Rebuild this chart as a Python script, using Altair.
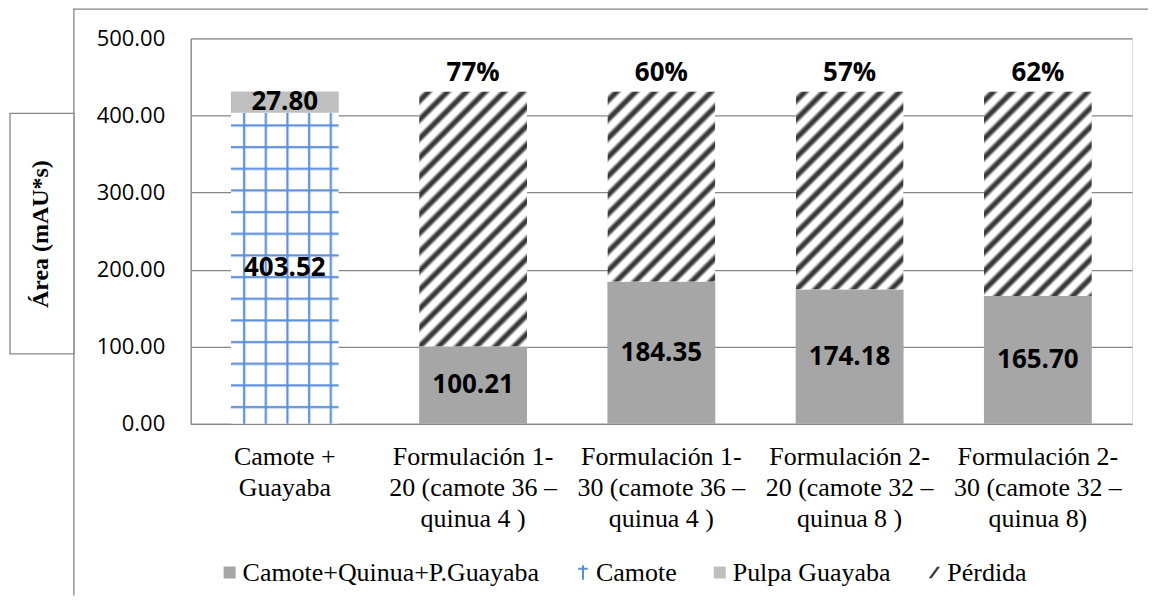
import base64
import altair as alt
import pandas as pd

# ---------------- data ----------------
categories = [
    "Camote +|Guayaba",
    "Formulación 1-|20 (camote 36 –|quinua 4 )",
    "Formulación 1-|30 (camote 36 –|quinua 4 )",
    "Formulación 2-|20 (camote 32 –|quinua 8 )",
    "Formulación 2-|30 (camote 32 –|quinua 8)",
]
series_names = ["Camote+Quinua+P.Guayaba", "Camote", "Pulpa Guayaba", "Pérdida"]

mezcla = [None, 100.21, 184.35, 174.18, 165.70]     # Camote+Quinua+P.Guayaba
camote = [403.52, None, None, None, None]            # Camote
pulpa = [27.80, None, None, None, None]              # Pulpa Guayaba
perdida = [None, 331.11, 246.97, 257.14, 265.62]     # Pérdida
perdida_pct = [None, "77%", "60%", "57%", "62%"]

y_title = "Área (mAU*s)"
y_ticks = [0, 100, 200, 300, 400, 500]

# ---------------- tables built from the arrays ----------------
rows = []
pct_rows = []
for i, cat in enumerate(categories):
    base = 0.0
    for name, vals in zip(series_names, [mezcla, camote, pulpa, perdida]):
        v = vals[i]
        if v is None:
            continue
        rows.append({"category": cat, "series": name, "value": v,
                     "y0": base, "y1": base + v, "mid": base + v / 2})
        base += v
    if perdida_pct[i] is not None:
        pct_rows.append({"category": cat, "top": base, "pct": perdida_pct[i]})

df = pd.DataFrame(rows)
df_solid = df[df["series"].isin(["Camote+Quinua+P.Guayaba", "Pulpa Guayaba"])]
df_cam = df[df["series"] == "Camote"]
df_perd = df[df["series"] == "Pérdida"]
df_lab = df[df["series"] != "Pérdida"]
df_pct = pd.DataFrame(pct_rows)
df_leg = pd.DataFrame({"series": series_names,
                       "category": [categories[0]] * 4,
                       "zero": [0.0] * 4})

# ---------------- pattern fills (SVG images) ----------------
hatch_svg = (
    "<svg xmlns='http://www.w3.org/2000/svg' width='100%' height='100%'>"
    "<defs><linearGradient id='g' x1='0' x2='1' y1='0' y2='0'>"
    "<stop offset='0' stop-color='#ffffff'/><stop offset='0.2' stop-color='#ffffff'/>"
    "<stop offset='0.42' stop-color='#383838'/><stop offset='0.6' stop-color='#383838'/>"
    "<stop offset='0.82' stop-color='#ffffff'/><stop offset='1' stop-color='#ffffff'/>"
    "</linearGradient>"
    "<pattern id='p' patternUnits='userSpaceOnUse' width='13.4' height='20' "
    "patternTransform='rotate(45)'><rect width='13.4' height='20' fill='url(#g)'/></pattern>"
    "</defs><rect width='100%' height='100%' fill='url(#p)'/></svg>"
)
grid_svg = (
    "<svg xmlns='http://www.w3.org/2000/svg' width='100%' height='100%'>"
    "<defs><pattern id='p' patternUnits='userSpaceOnUse' width='21.7' height='21.7' x='2.2' y='1.6'>"
    "<rect width='21.7' height='21.7' fill='#ffffff'/>"
    "<rect x='10' y='0' width='2.2' height='21.7' fill='#5b8fd9'/>"
    "<rect x='0' y='10' width='21.7' height='2.2' fill='#5b8fd9'/>"
    "</pattern></defs><rect width='100%' height='100%' fill='url(#p)'/></svg>"
)
hatch_url = "data:image/svg+xml;base64," + base64.b64encode(hatch_svg.encode()).decode()
grid_url = "data:image/svg+xml;base64," + base64.b64encode(grid_svg.encode()).decode()

# ---------------- styling ----------------
GRAY = "#868686"
SERIF = "Liberation Serif"
W, H = 943, 386

x_axis = alt.Axis(title=None, labelExpr="split(datum.label, '|')",
                  labelFont=SERIF, labelFontSize=26, labelLineHeight=31,
                  labelPadding=20, labelAngle=0, labelBaseline="top", labelColor="black",
                  labelLimit=0, ticks=False, tickSize=0, grid=False,
                  domainColor=GRAY, domainWidth=1.3)
y_axis = alt.Axis(title=None, values=y_ticks, format=".2f",
                  labelFont="Open Sans", labelFontSize=22, labelColor="black",
                  labelPadding=26, ticks=False, tickSize=0,
                  domainColor=GRAY, domainWidth=1.3, gridColor=GRAY, gridWidth=1.3)

x_enc = alt.X("category:N", sort=categories,
              scale=alt.Scale(domain=categories, paddingInner=0.427, paddingOuter=0.2135),
              axis=x_axis)
y_scale = alt.Scale(domain=[0, 500], nice=False)

legend = alt.Legend(title=None, orient="none", direction="horizontal",
                    legendX=26, legendY=522,
                    labelFont=SERIF, labelFontSize=26, labelColor="black",
                    labelLimit=0, labelOffset=0, columnPadding=30, symbolSize=144,
                    symbolStrokeWidth=0, symbolOpacity=1)
color_scale = alt.Scale(domain=series_names,
                        range=["#a6a6a6", "#5b8fd9", "#bfbfbf", "#404040"])
shape_scale = alt.Scale(domain=series_names, range=[
    "square",
    "M-0.17,-1.2H0.17V1.2H-0.17Z M-0.8,-0.78H0.8V-0.45H-0.8Z",
    "square",
    "M0.45,-0.95L0.95,-0.95L-0.45,0.95L-0.95,0.95Z",
])

# ---------------- layers ----------------
bars = alt.Chart(df_solid).mark_bar().encode(
    x=x_enc,
    y=alt.Y("y0:Q", scale=y_scale, axis=y_axis),
    y2="y1:Q",
    color=alt.Color("series:N", scale=color_scale, legend=legend),
)

cam_img = alt.Chart(df_cam).mark_image(aspect=False).encode(
    x=x_enc, y=alt.Y("y0:Q", scale=y_scale, axis=y_axis), y2="y1:Q",
    url=alt.value(grid_url),
)
perd_img = alt.Chart(df_perd).mark_image(aspect=False).encode(
    x=x_enc, y=alt.Y("y0:Q", scale=y_scale, axis=y_axis), y2="y1:Q",
    url=alt.value(hatch_url),
)

labels = alt.Chart(df_lab).mark_text(
    font="Open Sans", fontWeight="bold", fontSize=26, color="black", baseline="middle"
).encode(
    x=x_enc, y=alt.Y("mid:Q", scale=y_scale, axis=y_axis),
    text=alt.Text("value:Q", format=".2f"),
)

pct = alt.Chart(df_pct).mark_text(
    font="Open Sans", fontWeight="bold", fontSize=26, color="black", baseline="middle", dy=-18
).encode(
    x=x_enc, y=alt.Y("top:Q", scale=y_scale, axis=y_axis), text="pct:N",
)

legend_pts = alt.Chart(df_leg).mark_point(filled=True, opacity=0).encode(
    x=x_enc, y=alt.Y("zero:Q", scale=y_scale, axis=y_axis),
    color=alt.Color("series:N", scale=color_scale, legend=legend),
    shape=alt.Shape("series:N", scale=shape_scale, legend=legend),
)

one = alt.Data(values=[{"k": 1}])
frame_top = alt.Chart(one).mark_rule(color=GRAY, strokeWidth=1.3).encode(
    x=alt.value(-117), x2=alt.value(W + 16), y=alt.value(-29.3))
frame_left = alt.Chart(one).mark_rule(color=GRAY, strokeWidth=1.3).encode(
    x=alt.value(-117), y=alt.value(-30), y2=alt.value(H + 172))
title_box = alt.Chart(one).mark_rect(fill="white", stroke=GRAY, strokeWidth=1.3).encode(
    x=alt.value(-181), x2=alt.value(-117), y=alt.value(75), y2=alt.value(316))
title_txt = alt.Chart(one).mark_text(
    font=SERIF, fontWeight="bold", fontSize=24, color="black",
    angle=270, align="center", baseline="middle").encode(
    x=alt.value(-150), y=alt.value(196), text=alt.value(y_title))

chart = alt.layer(
    frame_top, frame_left, title_box, title_txt,
    bars, cam_img, perd_img, labels, pct, legend_pts,
).properties(
    width=W, height=H,
    autosize=alt.AutoSizeParams(type="none"),
    padding={"left": 183, "top": 30, "right": 16, "bottom": 172},
).configure_view(stroke=None).configure(background="white")

chart.save("out.html", embed_options={"renderer": "svg", "actions": False})
